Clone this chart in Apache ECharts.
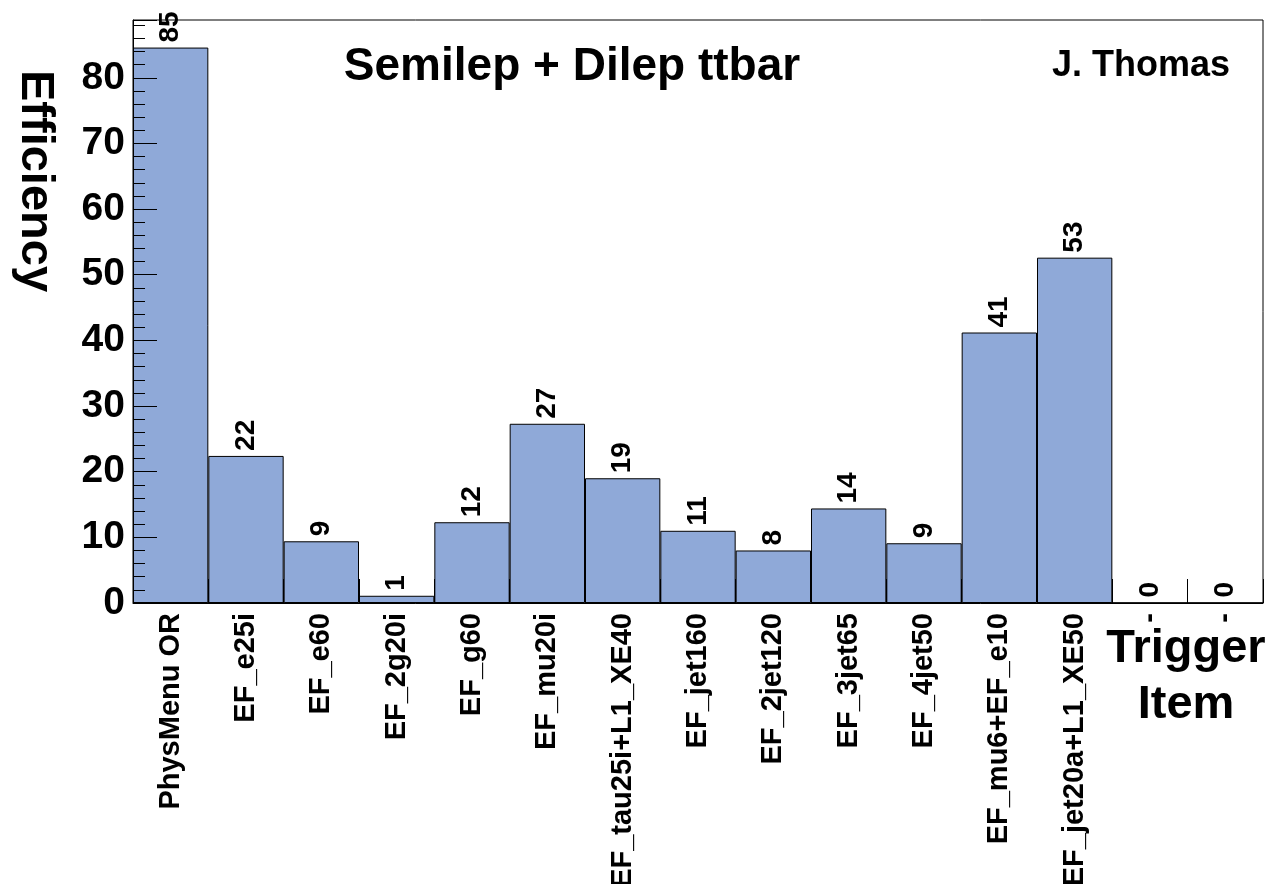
<!DOCTYPE html>
<html>
<head>
<meta charset="utf-8">
<title>Semilep + Dilep ttbar</title>
<script src="https://cdn.jsdelivr.net/npm/echarts@6/dist/echarts.min.js"></script>
<style>
  html, body { margin: 0; padding: 0; background: #ffffff; }
  #chart { width: 1268px; height: 884px; }
</style>
</head>
<body>
<div id="chart"></div>
<script>
// Trigger items (one histogram bin each)
const triggerItems = [
  'PhysMenu OR', 'EF_e25i', 'EF_e60', 'EF_2g20i', 'EF_g60', 'EF_mu20i',
  'EF_tau25i+L1_XE40', 'EF_jet160', 'EF_2jet120', 'EF_3jet65', 'EF_4jet50',
  'EF_mu6+EF_e10', 'EF_jet20a+L1_XE50', '-', '-'
];

// Trigger efficiency per item, in percent
const efficiency = [84.6, 22.4, 9.4, 1.1, 12.3, 27.3, 19.0, 11.0, 8.0, 14.4, 9.1, 41.2, 52.6, 0, 0];

// Efficiency axis
const yMax = 88.8;
const yMajorStep = 10;
const yMinorStep = 2;

const FONT = '"Liberation Sans", Arial, Helvetica, sans-serif';

const chart = echarts.init(document.getElementById('chart'), null, { renderer: 'canvas' });

chart.setOption({
  backgroundColor: '#ffffff',
  animation: false,
  grid: {
    left: 133, right: 5, top: 20, bottom: 281,
    containLabel: false, outerBoundsMode: 'none',
    show: true, borderColor: '#000000', borderWidth: 1, backgroundColor: 'transparent'
  },
  xAxis: {
    type: 'category',
    data: triggerItems,
    boundaryGap: true,
    z: 10,
    axisLine: { show: true, lineStyle: { color: '#000000', width: 1 } },
    axisTick: { show: true, inside: true, length: 24, interval: 0, lineStyle: { color: '#000000', width: 1 } },
    axisLabel: {
      interval: 0, rotate: 90, margin: 10,
      color: '#000000', fontFamily: FONT, fontWeight: 'bold', fontSize: 29
    },
    splitLine: { show: false }
  },
  yAxis: [
    {
      type: 'value', min: 0, max: yMax, interval: yMajorStep,
      z: 10,
      axisLine: { show: true, lineStyle: { color: '#000000', width: 1 } },
      axisTick: { show: true, inside: true, length: 24, lineStyle: { color: '#000000', width: 1 } },
      axisLabel: {
        margin: 8, color: '#000000', fontFamily: FONT, fontWeight: 'bold', fontSize: 39,
        formatter: v => (v % yMajorStep === 0 ? String(v) : '')
      },
      splitLine: { show: false }
    },
    {
      // minor ticks every 2 units, sharing the left edge
      type: 'value', min: 0, max: yMax, interval: yMinorStep, position: 'left',
      z: 10,
      axisLine: { show: false },
      axisTick: { show: true, inside: true, length: 12, lineStyle: { color: '#000000', width: 1 } },
      axisLabel: { show: false },
      splitLine: { show: false }
    }
  ],
  series: [{
    type: 'bar',
    data: efficiency,
    yAxisIndex: 0,
    barWidth: '100%',
    barCategoryGap: 0,
    z: 2,
    itemStyle: { color: '#8FA9D8', borderColor: '#000000', borderWidth: 1 },
    label: {
      show: true, position: 'top', rotate: 90, align: 'left', verticalAlign: 'middle',
      distance: 5, color: '#000000', fontFamily: FONT, fontWeight: 'bold', fontSize: 28,
      formatter: p => String(Math.round(p.value))
    }
  }],
  graphic: [
    {
      type: 'text', x: 572, y: 67, z: 100,
      style: {
        text: 'Semilep + Dilep ttbar', fill: '#000000',
        font: 'bold 46px ' + FONT, align: 'center', verticalAlign: 'middle'
      }
    },
    {
      type: 'text', x: 1141, y: 66, z: 100,
      style: {
        text: 'J. Thomas', fill: '#000000',
        font: 'bold 36px ' + FONT, align: 'center', verticalAlign: 'middle'
      }
    },
    {
      type: 'text', x: 1186, y: 677, z: 100,
      style: {
        text: 'Trigger\nItem', fill: '#000000', lineHeight: 56,
        font: 'bold 47px ' + FONT, align: 'center', verticalAlign: 'middle'
      }
    },
    {
      type: 'text', x: 35, y: 181, rotation: -Math.PI / 2, z: 100,
      style: {
        text: 'Efficiency', fill: '#000000',
        font: 'bold 47px ' + FONT, align: 'center', verticalAlign: 'middle'
      }
    }
  ]
});
</script>
</body>
</html>
